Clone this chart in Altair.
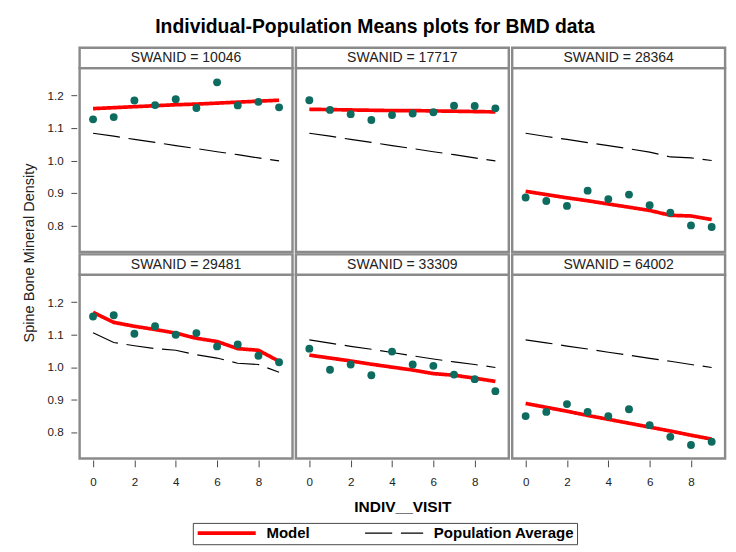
import altair as alt
import pandas as pd

# ---------------- data ----------------
visits = [0, 1, 2, 3, 4, 5, 6, 7, 8, 9]
swanids = ["10046", "17717", "28364", "29481", "33309", "64002"]
panel_row = [0, 0, 0, 1, 1, 1]
panel_col = [0, 1, 2, 0, 1, 2]

obs_10046 = [1.127, 1.134, 1.185, 1.171, 1.189, 1.162, 1.241, 1.170, 1.181, 1.164]
obs_17717 = [1.186, 1.156, 1.143, 1.125, 1.140, 1.145, 1.149, 1.169, 1.168, 1.161]
obs_28364 = [0.886, 0.875, 0.860, 0.907, 0.881, 0.895, 0.862, 0.839, 0.800, 0.795]
obs_29481 = [1.156, 1.160, 1.103, 1.126, 1.100, 1.105, 1.064, 1.070, 1.035, 1.015]
obs_33309 = [1.057, 0.992, 1.008, 0.975, 1.048, 1.008, 1.004, 0.977, 0.963, 0.926]
obs_64002 = [0.849, 0.862, 0.886, 0.862, 0.849, 0.870, 0.821, 0.785, 0.760, 0.770]

model_10046 = [1.160, 1.163, 1.166, 1.169, 1.172, 1.174, 1.177, 1.180, 1.183, 1.186]
model_17717 = [1.158, 1.157, 1.156, 1.155, 1.154, 1.154, 1.153, 1.152, 1.151, 1.150]
model_28364 = [0.905, 0.895, 0.885, 0.876, 0.866, 0.856, 0.846, 0.831, 0.829, 0.818]
model_29481 = [1.169, 1.138, 1.126, 1.116, 1.105, 1.089, 1.079, 1.057, 1.052, 1.018]
model_33309 = [1.037, 1.028, 1.019, 1.009, 1.000, 0.991, 0.980, 0.975, 0.966, 0.956]
model_64002 = [0.888, 0.876, 0.864, 0.851, 0.839, 0.827, 0.815, 0.803, 0.790, 0.778]

pop_10046 = [1.084, 1.075, 1.065, 1.056, 1.046, 1.037, 1.027, 1.018, 1.008, 0.999]
pop_17717 = [1.084, 1.075, 1.065, 1.056, 1.046, 1.037, 1.027, 1.018, 1.008, 0.999]
pop_28364 = [1.084, 1.074, 1.065, 1.055, 1.046, 1.036, 1.026, 1.011, 1.008, 1.000]
pop_29481 = [1.106, 1.076, 1.066, 1.057, 1.052, 1.038, 1.028, 1.012, 1.008, 0.984]
pop_33309 = [1.084, 1.074, 1.064, 1.055, 1.045, 1.035, 1.025, 1.016, 1.008, 0.999]
pop_64002 = [1.084, 1.075, 1.065, 1.056, 1.046, 1.037, 1.027, 1.018, 1.008, 0.999]

observed = [obs_10046, obs_17717, obs_28364, obs_29481, obs_33309, obs_64002]
modelled = [model_10046, model_17717, model_28364, model_29481, model_33309, model_64002]
population = [pop_10046, pop_17717, pop_28364, pop_29481, pop_33309, pop_64002]

series = ["Model", "Population Average"]
x_ticks = [0, 2, 4, 6, 8]
y_ticks = [0.8, 0.9, 1.0, 1.1, 1.2]

records = []
for i, sid in enumerate(swanids):
    for kind, vals in (("obs", observed[i]), ("Model", modelled[i]),
                       ("Population Average", population[i])):
        for v, val in zip(visits, vals):
            records.append({"swanid": sid, "label": f"SWANID = {sid}",
                            "row": panel_row[i], "col": panel_col[i],
                            "visit": v, "value": val, "kind": kind})
df = pd.DataFrame(records)

# ---------------- chart ----------------
W, H, HDR = 220, 190, 21
SW = 2.5
FONT = "Liberation Sans"
GRID = "#8a8a8a"

xenc = alt.X("visit:Q", scale=alt.Scale(domain=[-0.65, 9.65], nice=False, zero=False),
             axis=alt.Axis(values=x_ticks, title=None, format="d", tickSize=7, labelPadding=10))
yenc = alt.Y("value:Q", scale=alt.Scale(domain=[0.718, 1.285], nice=False, zero=False),
             axis=alt.Axis(values=y_ticks, title=None, format=".1f"))

leg = dict(title=None, orient="none", legendX=117, legendY=470, direction="horizontal",
           columns=2, symbolType="stroke", symbolSize=3600, clipHeight=15,
           labelFontSize=15.5, labelFontWeight="bold", labelFont=FONT, labelColor="#000",
           labelOffset=9, columnPadding=55, padding=3, strokeColor="#444",
           fillColor="white")

base = alt.Chart()

hdr_rect = base.transform_filter("datum.kind == 'obs' && datum.visit == 0").mark_rect(
    fill="white", stroke=GRID, strokeWidth=SW
).encode(x=alt.value(0), x2=alt.value(W), y=alt.value(-HDR), y2=alt.value(0))

hdr_text = base.transform_filter("datum.kind == 'obs' && datum.visit == 0").mark_text(
    font=FONT, fontSize=14.5, color="#222", baseline="middle", align="center"
).encode(x=alt.value(W / 2), y=alt.value(-HDR / 2 + 0.5), text="label:N")

lines = base.transform_filter("datum.kind != 'obs'").mark_line().encode(
    x=xenc, y=yenc,
    color=alt.Color("kind:N", scale=alt.Scale(domain=series, range=["#ff0000", "#000000"]),
                    legend=alt.Legend(**leg)),
    strokeDash=alt.StrokeDash("kind:N", scale=alt.Scale(domain=series, range=[[1, 0], [28, 9]]),
                              legend=alt.Legend(**leg)),
    strokeWidth=alt.StrokeWidth("kind:N", scale=alt.Scale(domain=series, range=[3.8, 1.2], type="ordinal"),
                                legend=alt.Legend(**leg)),
)

points = base.transform_filter("datum.kind == 'obs'").mark_circle(
    size=66, color="#0d6b5f", opacity=1
).encode(x=xenc, y=yenc)

cell = alt.layer(hdr_rect, hdr_text, lines, points, data=df).properties(width=W, height=H)

chart = cell.facet(
    row=alt.Row("row:O", header=alt.Header(labels=False, title="Spine Bone Mineral Density",
                                           titleFont=FONT, titleFontSize=15, titleFontWeight="normal",
                                           titleColor="#222", titlePadding=0)),
    column=alt.Column("col:O", header=alt.Header(labels=False, title="INDIV__VISIT", titleOrient="bottom",
                                                 titleFont=FONT, titleFontSize=16, titleFontWeight="bold",
                                                 titleColor="#000", titlePadding=3)),
    spacing={"row": -SW, "column": -SW},
).properties(
    title=alt.Title("Individual-Population Means plots for BMD data", font=FONT, fontSize=20,
                    fontWeight="bold", color="#000", anchor="middle", offset=9),
    padding={"left": 14, "top": 0, "right": 0, "bottom": 0},
).configure(font=FONT).configure_view(
    stroke=GRID, strokeWidth=SW, fill="white"
).configure_axis(
    domain=False, grid=False, tickSize=6, tickColor="#444", tickWidth=1,
    labelFont=FONT, labelFontSize=12, labelColor="#222", labelPadding=8
)

chart.save("out.html", embed_options={"renderer": "svg", "actions": False})
